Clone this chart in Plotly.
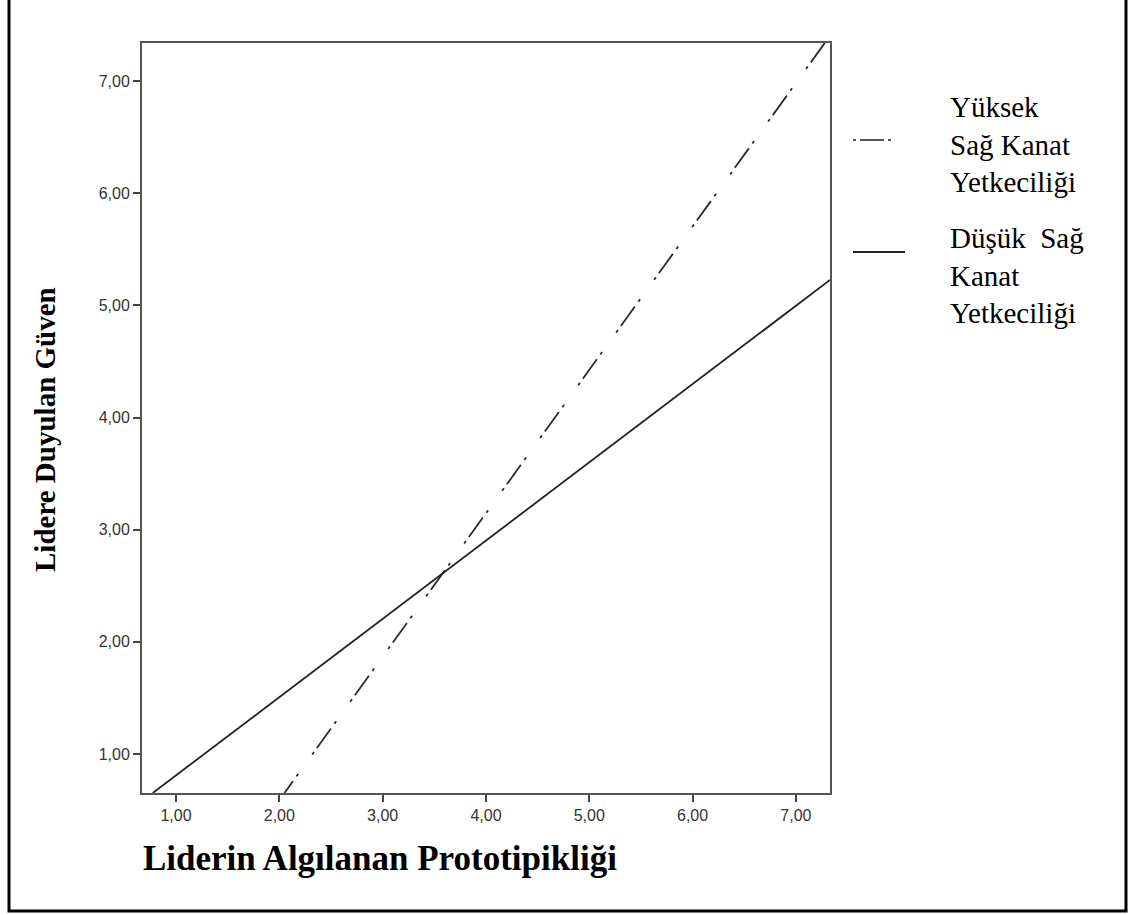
import plotly.graph_objects as go

# Data (x: Liderin Algılanan Prototipikliği, y: Lidere Duyulan Güven)
high_x = [7.28, 2.05]
high_y = [7.34, 0.652]
low_x = [0.775, 7.33]
low_y = [0.652, 5.226]

x_ticks = [1, 2, 3, 4, 5, 6, 7]
y_ticks = [1, 2, 3, 4, 5, 6, 7]

series_high = "Yüksek<br>Sağ Kanat<br>Yetkeciliği"
series_low = "Düşük&nbsp;&nbsp;Sağ<br>Kanat<br>Yetkeciliği"
x_title = "Liderin Algılanan Prototipikliği"
y_title = "Lidere Duyulan Güven"

W, H = 1132, 915
# plot area in screen pixels (page margin removed below)
L, R, T, B = 142, 830, 43, 793
pw, ph = R - L, B - T

def px(xs):
    return (xs - L) / pw

def py(ys):
    return (B - ys) / ph

DASH = "24px,5px,3px,24px,3px,6px"

fig = go.Figure()
fig.add_trace(go.Scatter(x=high_x, y=high_y, mode="lines",
                         line=dict(color="#2a2a2a", width=1.8, dash=DASH),
                         showlegend=False, name="Yüksek Sağ Kanat Yetkeciliği"))
fig.add_trace(go.Scatter(x=low_x, y=low_y, mode="lines",
                         line=dict(color="#222222", width=1.8),
                         showlegend=False, name="Düşük Sağ Kanat Yetkeciliği"))

axis_common = dict(showgrid=False, zeroline=False, showline=True, mirror=True,
                   linecolor="#555555", linewidth=2, ticks="outside", ticklen=7,
                   tickwidth=2, tickcolor="#444444", tickformat=".2f",
                   tickfont=dict(family="Liberation Sans, Arial", size=16, color="#333333"))

fig.update_xaxes(range=[0.671, 7.33], tickvals=x_ticks, **axis_common)
fig.update_yaxes(range=[0.652, 7.339], tickvals=y_ticks, **axis_common)

serif = "Liberation Serif, Times New Roman, serif"
annotations = [
    dict(text=f"<b>{y_title}</b>", x=px(45), y=py(430), xref="paper", yref="paper",
         textangle=-90, showarrow=False, font=dict(family=serif, size=29, color="#000"),
         xanchor="center", yanchor="middle"),
    dict(text=f"<b>{x_title}</b>", x=px(380), y=py(858), xref="paper", yref="paper",
         showarrow=False, font=dict(family=serif, size=35, color="#000"),
         xanchor="center", yanchor="middle"),
    dict(text=series_high, x=px(948), y=py(144), xref="paper", yref="paper",
         showarrow=False, align="left", font=dict(family=serif, size=29, color="#000"),
         xanchor="left", yanchor="middle"),
    dict(text=series_low, x=px(948), y=py(275), xref="paper", yref="paper",
         showarrow=False, align="left", font=dict(family=serif, size=29, color="#000"),
         xanchor="left", yanchor="middle"),
]

shapes = [
    # outer frame
    dict(type="rect", xref="paper", yref="paper", x0=px(9), x1=px(1126), y0=py(911), y1=py(-5),
         line=dict(color="#000000", width=3), fillcolor="rgba(0,0,0,0)", layer="below"),
    # legend samples
    dict(type="line", xref="paper", yref="paper", x0=px(853), x1=px(903), y0=py(140), y1=py(140),
         line=dict(color="#555555", width=2, dash="3px,4px,24px,4px,3px,20px")),
    dict(type="line", xref="paper", yref="paper", x0=px(853), x1=px(905), y0=py(252), y1=py(252),
         line=dict(color="#222222", width=2)),
]

fig.update_layout(width=W, height=H, margin=dict(l=L, r=W - R, t=T, b=H - B),
                  paper_bgcolor="white", plot_bgcolor="white", separators=", ",
                  annotations=annotations, shapes=shapes, showlegend=False)

fig.write_html("out.html", config={"displayModeBar": False},
               post_script="document.body.style.margin='0px';document.body.style.overflow='hidden';")
